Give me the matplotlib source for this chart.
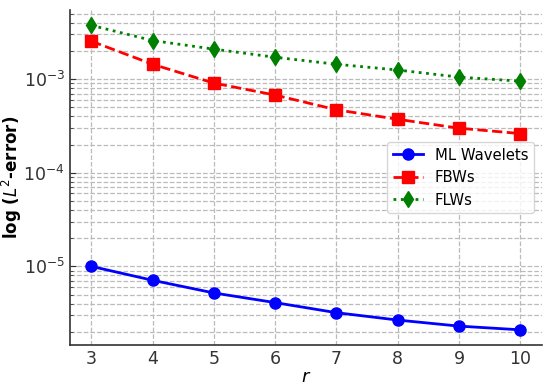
import matplotlib
matplotlib.use("Agg")
import matplotlib.pyplot as plt
import numpy as np

r = [3, 4, 5, 6, 7, 8, 9, 10]
ml_wavelets = [1.0e-5, 7.1e-6, 5.2e-6, 4.1e-6, 3.2e-6, 2.67e-6, 2.3e-6, 2.1e-6]
fbws = [2.54e-3, 1.44e-3, 9.06e-4, 6.75e-4, 4.7e-4, 3.72e-4, 2.99e-4, 2.62e-4]
flws = [3.75e-3, 2.58e-3, 2.09e-3, 1.71e-3, 1.44e-3, 1.25e-3, 1.05e-3, 9.5e-4]

fig = plt.figure(figsize=(5.5, 3.89), dpi=100)
ax = fig.add_axes([0.127, 0.113, 0.858, 0.861])

ax.semilogy(r, ml_wavelets, "-o", color="blue", lw=2, ms=8, label="ML Wavelets")
ax.semilogy(r, fbws, "--s", color="red", lw=2, ms=8, label="FBWs")
ax.semilogy(r, flws, ":d", color="green", lw=2, ms=8, label="FLWs")

ax.grid(True, which="both", ls="--", color="#bbbbbb", lw=0.9)
ax.spines["top"].set_visible(False)
ax.spines["right"].set_visible(False)
for s in ("left", "bottom"):
    ax.spines[s].set_color("#333333")
    ax.spines[s].set_linewidth(1.2)
ax.tick_params(which="both", direction="in", labelsize=12.5, colors="#333333")
ax.tick_params(axis="y", which="major", length=4)
ax.tick_params(axis="y", which="minor", length=2)
ax.tick_params(axis="x", length=0)
ax.set_xticks(r)

ax.set_xlabel("$r$", fontsize=13)
ax.xaxis.set_label_coords(0.5, -0.07)
ax.set_ylabel("log ($L^2$-error)", fontsize=12, fontweight="bold")
ax.yaxis.set_label_coords(-0.098, 0.5)
ax.legend(loc="center right", fontsize=10.7)

plt.savefig("out.png", dpi=100)
